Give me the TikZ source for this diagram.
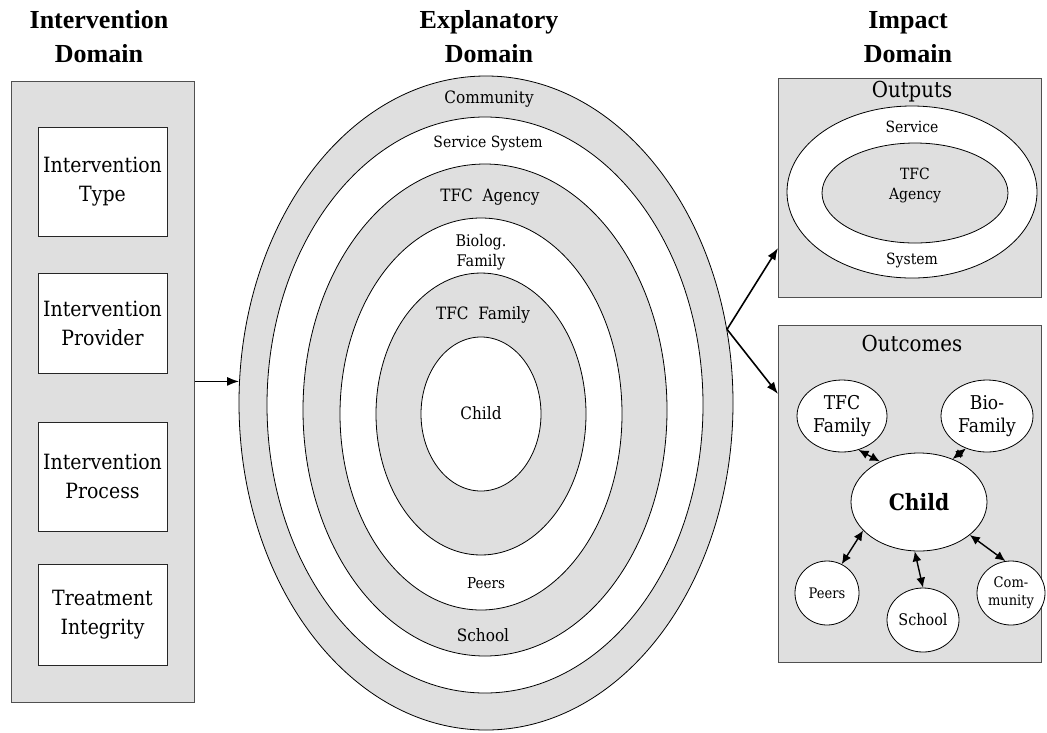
\documentclass[tikz,border=0pt]{standalone}
\usepackage{fontspec}
\setmainfont{DejaVu Serif}[FakeStretch=0.9]
\newfontfamily\headfont{Liberation Serif}
\usetikzlibrary{shapes}
\usetikzlibrary{arrows.meta}
\definecolor{boxgray}{HTML}{DFDFDF}
\definecolor{linegray}{HTML}{505050}
\tikzset{
    headnode/.style = {align=center, inner sep=0, font=\headfont\bfseries\fontsize{26}{34}\selectfont},
    panel/.style = {rectangle, draw=linegray, line width=1pt, fill=boxgray, inner sep=0},
    ivbox/.style = {rectangle, draw=black!85, line width=1pt, fill=white, align=center, minimum width=129, minimum height=#1, inner sep=0, font=\fontsize{21}{29}\selectfont},
    ivbox/.default = 100,
    ringg/.style = {ellipse, draw=black, line width=0.8pt, fill=boxgray, inner sep=0},
    ringw/.style = {ellipse, draw=black, line width=0.8pt, fill=white, inner sep=0},
    ringlabel/.style = {align=center, inner sep=0, font=\fontsize{17}{20}\selectfont},
    boxtitle/.style = {inner sep=0, font=\fontsize{22}{26}\selectfont},
    outnode/.style = {ellipse, draw=black, line width=0.8pt, fill=white, align=center, inner sep=0},
    edgea/.style = {-{Latex[length=12pt,width=9pt]}, line width=1.6pt, black},
    edged/.style = {{Latex[length=10pt,width=9pt]}-{Latex[length=10pt,width=9pt]}, line width=1.4pt, black}
}

\begin{document}
\begin{tikzpicture}[x=1pt,y=-1pt]
\useasboundingbox (0,0) rectangle (1047,732);

% headings
\node[headnode] at ( 99, 37) (hint) {Intervention\\Domain};
\node[headnode] at (489, 37) (hexp) {Explanatory\\Domain};
\node[headnode] at (908, 37) (himp) {Impact\\Domain};

% intervention domain
\node[panel, minimum width=183, minimum height=621] at (102.5, 391.5) (intpanel) {};
\node[ivbox=109] at (102.5, 181.5) (ivtype) {Intervention\\Type};
\node[ivbox=100] at (102.5, 323.0) (ivprov) {Intervention\\Provider};
\node[ivbox=109] at (102.5, 476.5) (ivproc) {Intervention\\Process};
\node[ivbox=101] at (102.5, 614.5) (ivtreat) {Treatment\\Integrity};

% explanatory domain, outer ring first
\node[ringg, minimum width=494, minimum height=654] at (486, 403) (commring) {};
\node[ringw, minimum width=436, minimum height=576] at (485, 405) (servring) {};
\node[ringg, minimum width=364, minimum height=492] at (485, 410) (agenring) {};
\node[ringw, minimum width=282, minimum height=392] at (481, 414) (bioring) {};
\node[ringg, minimum width=210, minimum height=282] at (481, 414) (famring) {};
\node[ringw, minimum width=120, minimum height=154] at (481, 414) (childring) {};

\node[ringlabel] at (489,  99) (lcomm) {Community};
\node[ringlabel, font=\fontsize{15.5}{18}\selectfont] at (488, 143) (lserv) {Service System};
\node[ringlabel] at (490, 197) (lagen) {TFC~~Agency};
\node[ringlabel, font=\fontsize{16}{20}\selectfont] at (481, 252) (lbio) {Biolog.\\Family};
\node[ringlabel] at (483, 315) (lfam) {TFC~~Family};
\node[ringlabel] at (481, 413) (lchild) {Child};
\node[ringlabel, font=\fontsize{15}{18}\selectfont] at (486, 583) (lpeers) {Peers};
\node[ringlabel] at (483, 635) (lschool) {School};

\draw[edgea] (commring.175 -| intpanel.east) -- (commring.175);

% impact domain: outputs
\node[panel, minimum width=263, minimum height=219] at (909.5, 187.5) (outbox) {};
\node[boxtitle] at (912, 92) (loutp) {Outputs};
\node[ringw, minimum width=250, minimum height=172] at (912, 192) (servell) {};
\node[ringg, minimum width=186, minimum height=100] at (915, 193) (agenell) {};
\node[ringlabel, font=\fontsize{15.5}{18}\selectfont] at (912, 127) (lservo) {Service};
\node[ringlabel, font=\fontsize{15.5}{20}\selectfont] at (915, 185) (lageno) {TFC\\Agency};
\node[ringlabel, font=\fontsize{15.5}{18}\selectfont] at (912, 260) (lsyso) {System};

% impact domain: outcomes
\node[panel, minimum width=263, minimum height=337] at (909.5, 493.5) (outcbox) {};
\node[boxtitle] at (912, 343) (loutc) {Outcomes};
\node[outnode, minimum width=90, minimum height=72, font=\fontsize{19}{23}\selectfont] at (842, 416) (tfcfam) {TFC\\Family};
\node[outnode, minimum width=92, minimum height=72, font=\fontsize{19}{23}\selectfont] at (987, 416) (biofam) {Bio-\\Family};
\node[outnode, minimum width=136, minimum height=98, font=\bfseries\fontsize{22.5}{26}\selectfont] at (919, 502) (childout) {Child};
\node[outnode, minimum width=64, minimum height=64, font=\fontsize{14.5}{18}\selectfont] at (827, 593) (peersout) {Peers};
\node[outnode, minimum width=72, minimum height=64, font=\fontsize{16}{19}\selectfont] at (923, 620) (schoolout) {School};
\node[outnode, minimum width=68, minimum height=64, font=\fontsize{14.5}{18}\selectfont] at (1011, 593) (commout) {Com-\\munity};

\draw[edged] (tfcfam.296) -- (childout.134);
\draw[edged] (biofam.237) -- (childout.52);
\draw[edged] (peersout.63) -- (childout.207);
\draw[edged] (schoolout.90) -- (childout.265);
\draw[edged] (commout.100) -- (childout.327);

% arrows into impact domain
\coordinate (outptip) at (778, 248);
\coordinate (outctip) at (778, 394);
\draw[edgea] (commring.17) -- (outptip);
\draw[edgea] (commring.17) -- (outctip);

\end{tikzpicture}
\end{document}
